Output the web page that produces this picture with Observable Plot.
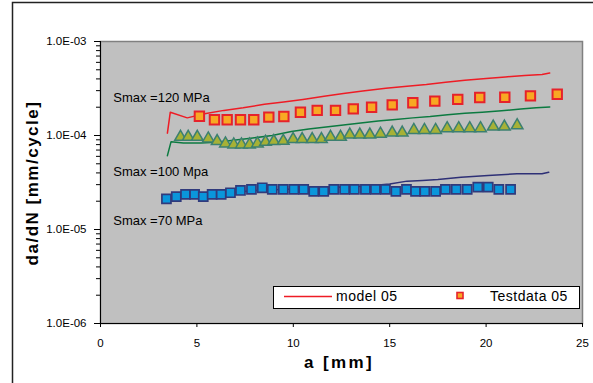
<!DOCTYPE html>
<html>
<head>
<meta charset="utf-8">
<script src="https://cdn.jsdelivr.net/npm/d3@7"></script>
<script src="https://cdn.jsdelivr.net/npm/@observablehq/plot@0.6"></script>
<style>
  html, body { margin: 0; padding: 0; background: #fff; }
  #chart { width: 593px; height: 383px; overflow: hidden; }
</style>
</head>
<body>
<div id="chart"></div>
<script>
// Crack growth rate da/dN versus crack length a, model vs. test data
const xTicks = [0, 5, 10, 15, 20, 25];
const yMajor = [1e-6, 1e-5, 1e-4, 1e-3];

// Model curves (a in mm, da/dN in mm/cycle)
const model120A = [3.47, 3.62, 4.5, 5.4, 6.4, 7.4, 8.5, 9.5, 10.5, 11.6, 12.6, 13.6, 14.8, 15.9, 16.9, 17.9, 18.9, 20.0, 21.0, 22.0, 22.9, 23.3];
const model120V = [1.06e-4, 1.77e-4, 1.54e-4, 1.70e-4, 1.85e-4, 1.97e-4, 2.15e-4, 2.27e-4, 2.42e-4, 2.62e-4, 2.80e-4, 2.98e-4, 3.18e-4, 3.35e-4, 3.48e-4, 3.68e-4, 3.88e-4, 4.05e-4, 4.20e-4, 4.35e-4, 4.45e-4, 4.62e-4];

const model100A = [3.47, 3.66, 4.3, 5.2, 6.0, 6.9, 7.9, 8.9, 9.9, 10.8, 11.7, 12.6, 13.5, 14.4, 15.3, 16.2, 17.1, 18.0, 18.9, 19.8, 20.8, 21.8, 22.6, 23.3];
const model100V = [6.1e-5, 8.6e-5, 8.3e-5, 8.3e-5, 8.5e-5, 8.9e-5, 9.4e-5, 1.0e-4, 1.1e-4, 1.17e-4, 1.23e-4, 1.29e-4, 1.36e-4, 1.43e-4, 1.48e-4, 1.54e-4, 1.59e-4, 1.66e-4, 1.72e-4, 1.77e-4, 1.83e-4, 1.91e-4, 1.97e-4, 2.01e-4];

const model70A = [3.47, 3.62, 5.0, 6.0, 7.0, 8.0, 9.0, 10.0, 11.0, 12.0, 13.0, 14.0, 15.0, 15.9, 16.7, 17.5, 18.7, 20.1, 21.6, 22.9, 23.25];
const model70V = [2.05e-5, 2.3e-5, 2.35e-5, 2.4e-5, 2.5e-5, 2.6e-5, 2.65e-5, 2.7e-5, 2.75e-5, 2.8e-5, 2.85e-5, 2.92e-5, 3.05e-5, 3.27e-5, 3.33e-5, 3.40e-5, 3.60e-5, 3.75e-5, 3.92e-5, 3.92e-5, 4.07e-5];

// Test data
const test120A = [5.13, 5.91, 6.57, 7.26, 7.95, 8.73, 9.51, 10.37, 11.24, 12.19, 13.11, 14.06, 15.13, 16.20, 17.34, 18.53, 19.67, 20.97, 22.30, 23.69];
const test120V = [1.60e-4, 1.47e-4, 1.47e-4, 1.47e-4, 1.47e-4, 1.57e-4, 1.59e-4, 1.77e-4, 1.85e-4, 1.85e-4, 1.92e-4, 2.00e-4, 2.12e-4, 2.23e-4, 2.32e-4, 2.42e-4, 2.54e-4, 2.55e-4, 2.64e-4, 2.75e-4];

const test100A = [4.15, 4.55, 5.02, 5.59, 6.05, 6.48, 6.91, 7.31, 7.73, 8.14, 8.56, 8.99, 9.48, 9.99, 10.46, 10.98, 11.46, 11.93, 12.45, 12.93, 13.45, 13.97, 14.52, 15.13, 15.65, 16.25, 16.80, 17.38, 17.98, 18.58, 19.15, 19.71, 20.37, 20.95, 21.61];
const test100V = [9.65e-5, 9.65e-5, 9.65e-5, 9.26e-5, 8.69e-5, 8.2e-5, 8.0e-5, 8.0e-5, 8.0e-5, 8.2e-5, 8.54e-5, 8.69e-5, 8.74e-5, 9.12e-5, 9.12e-5, 9.12e-5, 9.12e-5, 9.65e-5, 9.65e-5, 1.02e-4, 1.02e-4, 1.02e-4, 1.04e-4, 1.07e-4, 1.07e-4, 1.14e-4, 1.14e-4, 1.14e-4, 1.19e-4, 1.19e-4, 1.19e-4, 1.19e-4, 1.24e-4, 1.24e-4, 1.28e-4];

const test70A = [3.42, 3.93, 4.41, 4.88, 5.33, 5.79, 6.26, 6.74, 7.26, 7.83, 8.39, 8.91, 9.48, 10.03, 10.54, 11.06, 11.58, 12.10, 12.66, 13.17, 13.74, 14.26, 14.78, 15.32, 15.87, 16.34, 16.82, 17.38, 17.89, 18.45, 19.02, 19.57, 20.11, 20.66, 21.27];
const test70V = [2.12e-5, 2.24e-5, 2.36e-5, 2.36e-5, 2.24e-5, 2.36e-5, 2.36e-5, 2.46e-5, 2.60e-5, 2.67e-5, 2.78e-5, 2.67e-5, 2.67e-5, 2.67e-5, 2.67e-5, 2.54e-5, 2.54e-5, 2.67e-5, 2.67e-5, 2.67e-5, 2.67e-5, 2.67e-5, 2.67e-5, 2.54e-5, 2.67e-5, 2.54e-5, 2.54e-5, 2.54e-5, 2.67e-5, 2.67e-5, 2.67e-5, 2.82e-5, 2.82e-5, 2.67e-5, 2.67e-5];

// Load level labels
const loadLabels = ["Smax =120 MPa", "Smax =100 Mpa", "Smax =70 MPa"];
const loadLabelA = [0.66, 0.66, 0.66];
const loadLabelV = [2.5e-4, 4.14e-5, 1.25e-5];

const legendLabels = ["model 05", "Testdata 05"];

const zip = (A, V) => A.map((a, i) => ({a, v: V[i]}));

const fmtE = d => {
  const e = Math.round(Math.log10(d));
  const m = d / Math.pow(10, e);
  return m.toFixed(1) + "E" + (e < 0 ? "-" : "+") + String(Math.abs(e)).padStart(2, "0");
};
const yMinor = d3.range(-6, -3).flatMap(e => d3.range(2, 10).map(k => k * Math.pow(10, e)));

const FONT = "'Liberation Sans', Arial, sans-serif";

const svg = Plot.plot({
  width: 593,
  height: 383,
  marginLeft: 100,
  marginRight: 11,
  marginTop: 41,
  marginBottom: 60,
  style: {fontFamily: FONT, fontSize: "11px", color: "black", background: "white", overflow: "visible"},
  x: {domain: [0, 25]},
  y: {type: "log", domain: [1e-6, 1e-3]},
  marks: [
    Plot.frame({fill: "#c0c0c0", stroke: "#808080", strokeWidth: 1.5}),
    // tick marks
    Plot.axisX({ticks: xTicks, tickSize: 4, tickFormat: () => "", label: null, stroke: "black"}),
    Plot.axisY({ticks: yMajor, tickSize: 6, tickFormat: () => "", label: null, stroke: "black"}),
    Plot.axisY({ticks: yMinor, tickSize: 4, tickFormat: () => "", label: null, stroke: "black"}),
    // tick labels
    Plot.text(xTicks, {x: d => d, frameAnchor: "bottom", dy: 23, text: d => String(d), fontSize: 11.5, fill: "black", textAnchor: "middle"}),
    Plot.text(yMajor, {y: d => d, frameAnchor: "left", dx: -14, text: fmtE, fontSize: 11.5, fill: "black", textAnchor: "end"}),
    Plot.ruleX([0], {stroke: "black", strokeWidth: 1}),
    Plot.ruleY([1e-6], {stroke: "black", strokeWidth: 1}),
    Plot.line(zip(model120A, model120V), {x: "a", y: "v", stroke: "#ee1c25", strokeWidth: 1.5}),
    Plot.line(zip(model100A, model100V), {x: "a", y: "v", stroke: "#0b7a40", strokeWidth: 1.5}),
    Plot.line(zip(model70A, model70V), {x: "a", y: "v", stroke: "#2e3076", strokeWidth: 1.5}),
    Plot.dot(zip(test120A, test120V), {x: "a", y: "v", symbol: "square", r: 5.3, fill: "#f8a823", stroke: "#e6222b", strokeWidth: 2}),
    Plot.dot(zip(test100A, test100V), {x: "a", y: "v", symbol: "triangle", r: 4.3, fill: "#a6b136", stroke: "#3c8070", strokeWidth: 1.5}),
    Plot.dot(zip(test70A, test70V), {x: "a", y: "v", symbol: "square", r: 5.1, fill: "#0a96db", stroke: "#303a7c", strokeWidth: 1.7}),
    Plot.text(loadLabels, {x: loadLabelA, y: loadLabelV, text: d => d, textAnchor: "start", fontSize: 13, fill: "black"})
  ]
});

const root = d3.select(svg);
root.style("font-family", FONT);

// Axis titles
root.append("text")
  .attr("transform", "translate(38,183) rotate(-90)")
  .attr("text-anchor", "middle")
  .attr("font-size", 17)
  .attr("font-weight", "bold")
  .attr("letter-spacing", "1.5px")
  .attr("fill", "black")
  .text("da/dN [mm/cycle]");

root.append("text")
  .attr("x", 339)
  .attr("y", 368)
  .attr("text-anchor", "middle")
  .attr("font-size", 17)
  .attr("font-weight", "bold")
  .attr("letter-spacing", "2.4px")
  .attr("fill", "black")
  .text("a [mm]");

// Legend box inside the plot area
const lg = root.append("g").attr("text-anchor", "start");
lg.append("rect")
  .attr("x", 273.5).attr("y", 286.5).attr("width", 306).attr("height", 22)
  .attr("fill", "white").attr("stroke", "black").attr("stroke-width", 1);
lg.append("line")
  .attr("x1", 284).attr("x2", 332).attr("y1", 296.5).attr("y2", 296.5)
  .attr("stroke", "#ee1c25").attr("stroke-width", 1.5);
lg.append("text")
  .attr("x", 336).attr("y", 300.5).attr("text-anchor", "start")
  .attr("font-size", 14).attr("letter-spacing", "0.5px").attr("fill", "black")
  .text(legendLabels[0]);
lg.append("rect")
  .attr("x", 457).attr("y", 292.5).attr("width", 6).attr("height", 6)
  .attr("fill", "#f8a823").attr("stroke", "#e6222b").attr("stroke-width", 1.6);
lg.append("text")
  .attr("x", 490).attr("y", 300.5).attr("text-anchor", "start")
  .attr("font-size", 14).attr("letter-spacing", "0.5px").attr("fill", "black")
  .text(legendLabels[1]);

// Chart border (left and top edges)
root.append("path")
  .attr("d", "M12.5,383V2.5H593")
  .attr("fill", "none").attr("stroke", "#222").attr("stroke-width", 1.5);

document.getElementById("chart").appendChild(svg);
</script>
</body>
</html>
